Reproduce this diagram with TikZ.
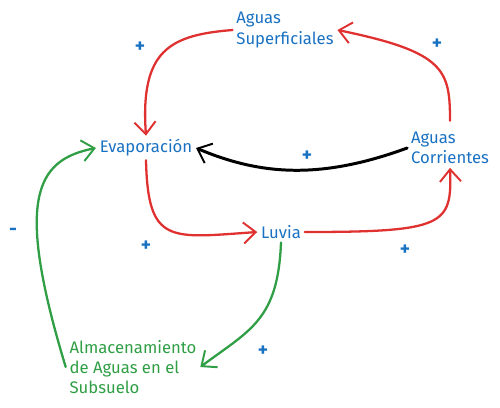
\documentclass[tikz,border=0pt]{standalone}
\usepackage{fontspec}
\setmainfont{Fira Sans}
\usetikzlibrary{arrows.meta}
\definecolor{exblue}{HTML}{1971C2}
\definecolor{exred}{HTML}{E03131}
\definecolor{exgreen}{HTML}{2F9E44}
\tikzset{
  lbl/.style={text=exblue, font=\fontsize{9.5}{11.5}\selectfont, align=left, inner sep=2pt},
  sgn/.style={text=exblue, font=\bfseries\fontsize{11}{13}\selectfont, inner sep=0pt},
  link/.style={line width=1.3pt, line cap=round, -{Straight Barb[length=7pt,width=12pt,line width=1.1pt]}}
}
\begin{document}
\begin{tikzpicture}[x=0.02cm,y=-0.02cm]
\useasboundingbox (0,0) rectangle (500,407);
\node[lbl] (sup) at (285,30) {Aguas\\Superficiales};
\node[lbl] (evap) at (146,148) {Evaporación};
\node[lbl] (corr) at (450,148) {Aguas\\Corrientes};
\node[lbl] (luv) at (281,232) {Luvia};
\node[lbl, text=exgreen] (alm) at (133,367) {Almacenamiento\\de Aguas en el\\Subsuelo};

\node[sgn] (s1) at (140,47) {+};
\node[sgn] (s2) at (437,44) {+};
\node[sgn] (s3) at (307,156) {+};
\node[sgn] (s4) at (146,246) {+};
\node[sgn] (s5) at (405,250) {+};
\node[sgn] (s6) at (263,351) {+};
\node[sgn] (s7) at (13,232) {-};

\path[draw,link,exred] (sup.west) .. controls (170,35) and (140,50) .. (evap.north);
\path[draw,link,exred] ([yshift=0.15cm]corr.north) .. controls (450,70) and (445,52) .. (sup.east);
\path[draw,link,black,line width=1.7pt] (corr.west) .. controls (320,180) and (260,175) .. (evap.east);
\path[draw,link,exred] (evap.south) .. controls (148,245) and (170,238) .. (luv.west);
\path[draw,link,exred] (luv.east) .. controls (445,232) and (452,225) .. (corr.south);
\path[draw,link,exgreen] (luv.south) .. controls (278,320) and (250,330) .. (alm.east);
\path[draw,link,exgreen] (alm.west) .. controls (15,200) and (35,160) .. (evap.west);
\end{tikzpicture}
\end{document}
